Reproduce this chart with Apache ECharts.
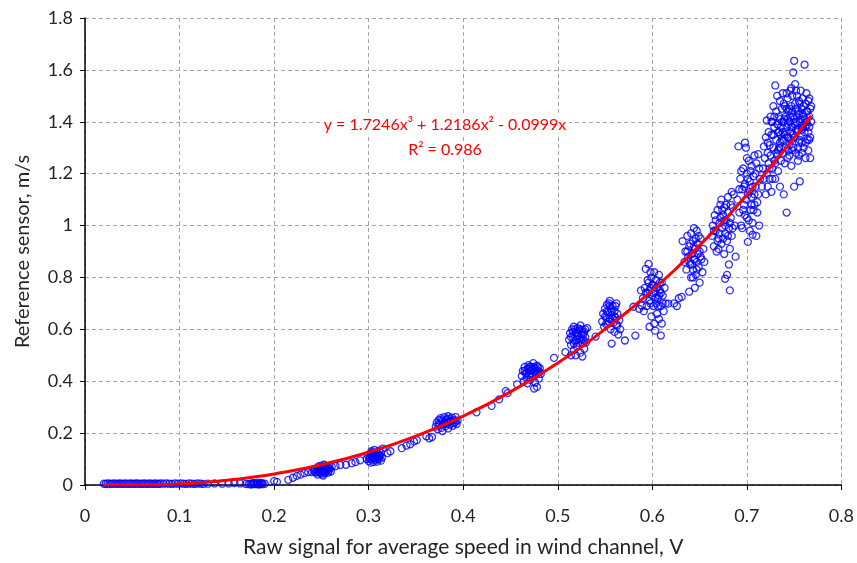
<!DOCTYPE html>
<html>
<head>
<meta charset="utf-8">
<script src="https://cdn.jsdelivr.net/npm/echarts@6/dist/echarts.min.js"></script>
<style>
html, body { margin: 0; padding: 0; background: #fff; }
#chart { width: 857px; height: 563px; }
</style>
</head>
<body>
<div id="chart"></div>
<script>
var zeroBand = [[0.020,0.005],[0.022,0.004],[0.024,0.006],[0.026,0.005],[0.028,0.004],[0.030,0.006],[0.032,0.005],[0.034,0.004],[0.036,0.006],[0.038,0.005],[0.040,0.004],[0.042,0.006],[0.044,0.005],[0.046,0.004],[0.048,0.006],[0.050,0.005],[0.052,0.004],[0.054,0.006],[0.056,0.005],[0.058,0.005],[0.060,0.004],[0.062,0.006],[0.064,0.005],[0.066,0.004],[0.068,0.006],[0.070,0.005],[0.072,0.004],[0.074,0.006],[0.076,0.005],[0.078,0.004],[0.080,0.006],[0.083,0.005],[0.086,0.006],[0.089,0.005],[0.092,0.004],[0.095,0.006],[0.098,0.005],[0.101,0.006],[0.104,0.005],[0.107,0.004],[0.110,0.006],[0.113,0.005],[0.116,0.004],[0.119,0.006],[0.122,0.005],[0.125,0.004]];
var lowSparse = [[0.130,0.005],[0.137,0.006],[0.145,0.005],[0.152,0.006],[0.158,0.007],[0.164,0.006],[0.170,0.004],
  [0.173,0.003],[0.175,0.005],[0.176,0.002],[0.178,0.004],[0.179,0.006],[0.181,0.003],[0.182,0.005],[0.184,0.002],[0.185,0.004],[0.187,0.006],[0.188,0.003],[0.190,0.005],[0.178,0.008],[0.183,0.009],[0.186,0.008],
  [0.200,0.015],[0.203,0.012],[0.215,0.020],[0.220,0.028],[0.224,0.035],[0.228,0.040],[0.232,0.046],[0.236,0.050]];
var c025 = [[0.240,0.050],[0.242,0.055],[0.243,0.062],[0.244,0.048],[0.245,0.058],[0.246,0.066],[0.247,0.052],[0.247,0.072],[0.248,0.060],[0.249,0.045],[0.249,0.068],[0.250,0.055],[0.250,0.075],[0.251,0.062],[0.251,0.040],[0.252,0.050],[0.252,0.070],[0.253,0.058],[0.253,0.078],[0.254,0.046],[0.254,0.065],[0.255,0.055],[0.255,0.072],[0.256,0.060],[0.257,0.048],[0.257,0.068],[0.258,0.056],[0.259,0.064],[0.260,0.052],[0.261,0.070],[0.246,0.040],[0.252,0.036],
  [0.245,0.050],[0.248,0.062],[0.251,0.052],[0.254,0.058],[0.257,0.060],[0.250,0.065],
  [0.265,0.073],[0.270,0.077],[0.276,0.078],[0.282,0.084],[0.286,0.088],[0.291,0.095]];
var c030 = [[0.298,0.100],[0.299,0.115],[0.300,0.092],[0.301,0.108],[0.302,0.122],[0.303,0.098],[0.303,0.130],[0.304,0.112],[0.305,0.088],[0.305,0.120],[0.306,0.104],[0.306,0.135],[0.307,0.096],[0.307,0.116],[0.308,0.126],[0.309,0.108],[0.309,0.090],[0.310,0.118],[0.311,0.100],[0.311,0.132],[0.312,0.112],[0.313,0.094],[0.313,0.124],[0.314,0.106],[0.315,0.140],[0.302,0.086],
  [0.301,0.100],[0.303,0.115],[0.305,0.105],[0.307,0.110],[0.309,0.100],[0.311,0.112],[0.304,0.125],
  [0.320,0.123],[0.323,0.130],[0.335,0.142],[0.340,0.152],[0.344,0.157],[0.348,0.168],[0.351,0.173],[0.361,0.188],[0.364,0.180],[0.367,0.185]];
var c038 = [[0.371,0.225],[0.372,0.240],[0.373,0.215],[0.374,0.250],[0.375,0.232],[0.376,0.258],[0.377,0.220],[0.378,0.245],[0.379,0.236],[0.380,0.262],[0.381,0.226],[0.382,0.250],[0.383,0.240],[0.384,0.218],[0.385,0.255],[0.386,0.232],[0.387,0.246],[0.388,0.260],[0.389,0.228],[0.390,0.250],[0.391,0.240],[0.392,0.262],[0.393,0.235],[0.394,0.248],[0.378,0.208],[0.384,0.265],
  [0.374,0.235],[0.377,0.250],[0.380,0.240],[0.383,0.255],[0.386,0.245],[0.389,0.240],[0.392,0.248],[0.381,0.235],
  [0.414,0.280],[0.430,0.305],[0.438,0.330],[0.445,0.362],[0.447,0.354],[0.457,0.388]];
var c047 = [[0.462,0.420],[0.463,0.440],[0.464,0.400],[0.465,0.455],[0.466,0.430],[0.467,0.412],[0.468,0.448],[0.469,0.462],[0.470,0.425],[0.471,0.405],[0.471,0.440],[0.472,0.455],[0.473,0.418],[0.474,0.470],[0.475,0.435],[0.476,0.450],[0.476,0.395],[0.477,0.425],[0.478,0.460],[0.479,0.440],[0.480,0.410],[0.481,0.450],[0.482,0.428],[0.478,0.378],[0.475,0.372],[0.468,0.392],
  [0.465,0.440],[0.467,0.430],[0.469,0.445],[0.471,0.430],[0.473,0.445],[0.475,0.455],[0.477,0.440],[0.479,0.455],[0.481,0.435],[0.470,0.455],
  [0.496,0.490],[0.508,0.512],[0.514,0.500]];
var c052 = [[0.512,0.560],[0.513,0.585],[0.514,0.540],[0.515,0.600],[0.516,0.570],[0.517,0.520],[0.517,0.610],[0.518,0.555],[0.519,0.590],[0.520,0.535],[0.520,0.575],[0.521,0.605],[0.522,0.548],[0.522,0.595],[0.523,0.565],[0.524,0.510],[0.524,0.615],[0.525,0.580],[0.526,0.545],[0.526,0.600],[0.527,0.560],[0.528,0.590],[0.528,0.525],[0.529,0.570],[0.530,0.550],[0.519,0.500],[0.526,0.495],[0.531,0.605],
  [0.514,0.570],[0.516,0.590],[0.518,0.600],[0.520,0.560],[0.521,0.585],[0.523,0.600],[0.525,0.560],[0.527,0.580],[0.529,0.600],[0.517,0.545],
  [0.540,0.572]];
var c055 = [[0.547,0.630],[0.548,0.660],[0.549,0.610],[0.550,0.680],[0.551,0.645],[0.552,0.695],[0.553,0.620],[0.553,0.665],[0.554,0.700],[0.555,0.640],[0.556,0.680],[0.556,0.600],[0.557,0.655],[0.558,0.690],[0.559,0.625],[0.560,0.670],[0.560,0.590],[0.561,0.645],[0.562,0.700],[0.563,0.615],[0.563,0.660],[0.564,0.580],[0.565,0.635],[0.555,0.710],[0.566,0.600],
  [0.550,0.650],[0.552,0.670],[0.554,0.630],[0.555,0.690],[0.557,0.670],[0.558,0.640],[0.560,0.650],[0.561,0.690],[0.562,0.620],[0.551,0.620],
  [0.557,0.545],[0.571,0.557],[0.582,0.576],[0.580,0.687],[0.586,0.679],[0.589,0.691]];
var c060 = [[0.590,0.720],[0.592,0.760],[0.593,0.833],[0.594,0.690],[0.595,0.740],[0.596,0.852],[0.596,0.780],[0.597,0.710],[0.598,0.760],[0.599,0.650],[0.599,0.800],[0.600,0.730],[0.601,0.690],[0.601,0.770],[0.602,0.622],[0.602,0.820],[0.603,0.745],[0.604,0.700],[0.604,0.790],[0.605,0.660],[0.605,0.760],[0.606,0.720],[0.607,0.810],[0.607,0.640],[0.608,0.750],[0.609,0.690],[0.609,0.576],[0.610,0.622],[0.610,0.780],[0.611,0.730],[0.612,0.670],[0.613,0.760],[0.614,0.700],[0.588,0.750],[0.591,0.670],[0.597,0.610],[0.603,0.595],
  [0.593,0.740],[0.595,0.790],[0.597,0.750],[0.598,0.700],[0.600,0.770],[0.601,0.740],[0.603,0.720],[0.604,0.760],[0.606,0.690],[0.607,0.730],[0.608,0.780],[0.609,0.740],[0.611,0.700],[0.598,0.820],
  [0.617,0.699],[0.623,0.700],[0.626,0.690],[0.628,0.720],[0.631,0.725]];
var c065 = [[0.632,0.940],[0.634,0.860],[0.635,0.900],[0.636,0.830],[0.637,0.960],[0.638,0.880],[0.639,0.745],[0.639,0.920],[0.640,0.850],[0.641,0.800],[0.641,0.970],[0.642,0.890],[0.643,0.830],[0.643,0.940],[0.644,0.870],[0.645,0.760],[0.645,0.910],[0.646,0.810],[0.647,0.980],[0.647,0.860],[0.648,0.930],[0.649,0.840],[0.650,0.900],[0.650,0.780],[0.651,0.950],[0.652,0.870],[0.653,0.820],[0.654,0.910],[0.655,0.860],[0.644,0.990],
  [0.637,0.900],[0.639,0.860],[0.640,0.930],[0.642,0.850],[0.644,0.920],[0.645,0.870],[0.646,0.950],[0.648,0.890],[0.649,0.960],[0.651,0.880],[0.643,0.800],[0.647,0.830]];
var c068 = [[0.663,0.960],[0.664,1.000],[0.665,0.920],[0.666,1.040],[0.667,0.980],[0.668,0.900],[0.669,1.060],[0.670,0.950],[0.671,1.010],[0.672,1.080],[0.673,1.100],[0.673,0.930],[0.674,0.990],[0.675,1.040],[0.676,0.890],[0.676,1.070],[0.677,0.970],[0.678,1.020],[0.679,0.940],[0.680,1.110],[0.680,1.050],[0.681,0.990],[0.682,0.910],[0.683,1.030],[0.684,1.130],[0.684,0.960],[0.685,1.070],[0.686,1.120],[0.687,1.000],[0.688,0.880],[0.681,0.850],[0.679,0.810],[0.677,0.795],[0.682,0.750],
  [0.665,0.980],[0.667,1.020],[0.669,0.940],[0.671,0.970],[0.672,1.030],[0.674,1.060],[0.675,0.950],[0.677,1.000],[0.678,1.080],[0.680,0.960],[0.682,1.010],[0.683,1.080],[0.685,0.990],[0.670,0.910],[0.676,1.020]];
var c070 = [[0.690,1.100],[0.691,1.305],[0.692,1.050],[0.693,1.180],[0.694,1.000],[0.695,1.140],[0.696,1.220],[0.697,1.080],[0.698,1.320],[0.698,1.160],[0.699,1.300],[0.700,1.030],[0.700,1.200],[0.701,0.937],[0.701,1.120],[0.702,1.250],[0.703,0.980],[0.703,1.170],[0.704,1.060],[0.705,1.230],[0.705,1.110],[0.706,1.010],[0.707,1.190],[0.708,1.270],[0.708,1.080],[0.709,1.150],[0.710,0.960],[0.710,1.240],[0.711,1.050],[0.712,1.120],[0.712,1.275],[0.713,1.000],[0.714,1.180],[0.695,0.990],[0.706,0.965],
  [0.692,1.140],[0.694,1.210],[0.696,1.060],[0.697,1.150],[0.699,1.100],[0.700,1.260],[0.702,1.020],[0.703,1.130],[0.704,1.210],[0.706,1.150],[0.707,1.060],[0.709,1.200],[0.711,1.090],[0.713,1.220],[0.701,1.180],[0.705,1.080],[0.708,1.120],[0.698,1.040]];
var c075 = [[0.716,1.150],[0.717,1.220],[0.718,1.305],[0.718,1.180],[0.719,1.260],[0.720,1.120],[0.720,1.340],[0.721,1.405],[0.721,1.200],[0.722,1.280],[0.722,1.150],[0.723,1.360],[0.723,1.240],[0.724,1.180],[0.724,1.310],[0.725,1.420],[0.725,1.270],[0.726,1.130],[0.726,1.350],[0.727,1.220],
  [0.727,1.400],[0.728,1.300],[0.728,1.460],[0.729,1.250],[0.729,1.380],[0.730,1.540],[0.730,1.180],[0.731,1.330],[0.731,1.440],[0.732,1.270],[0.732,1.500],[0.733,1.360],[0.733,1.210],[0.734,1.420],[0.734,1.300],[0.735,1.480],[0.735,1.150],[0.736,1.380],[0.736,1.250],[0.737,1.450],[0.737,1.330],[0.738,1.510],[0.738,1.280],[0.739,1.400],[0.739,1.120],[0.740,1.350],[0.740,1.460],
  [0.741,1.300],[0.741,1.420],[0.742,1.050],[0.742,1.380],[0.743,1.490],[0.743,1.260],[0.744,1.340],[0.744,1.440],[0.745,1.400],[0.745,1.310],[0.746,1.520],[0.746,1.360],[0.747,1.230],[0.747,1.460],[0.748,1.380],[0.748,1.290],[0.749,1.590],[0.749,1.420],[0.750,1.635],[0.750,1.150],[0.750,1.340],[0.751,1.545],[0.751,1.470],[0.752,1.280],[0.752,1.400],[0.753,1.500],[0.753,1.360],[0.754,1.250],[0.754,1.440],[0.755,1.320],[0.755,1.480],[0.756,1.170],[0.756,1.400],
  [0.757,1.350],[0.757,1.520],[0.758,1.280],[0.758,1.450],[0.759,1.380],[0.759,1.490],[0.760,1.300],[0.760,1.420],[0.761,1.620],[0.761,1.360],[0.762,1.470],[0.762,1.260],[0.763,1.400],[0.763,1.510],[0.764,1.330],[0.764,1.440],[0.765,1.290],[0.765,1.480],[0.766,1.380],[0.766,1.420],[0.767,1.340],[0.767,1.260],[0.768,1.460],[0.768,1.400],
  [0.733,1.390],[0.738,1.360],[0.743,1.410],[0.747,1.330],[0.752,1.370],[0.756,1.330],[0.760,1.390],[0.745,1.270],[0.740,1.240],[0.735,1.320],
  [0.722,1.320],[0.724,1.220],[0.726,1.400],[0.728,1.350],[0.729,1.420],[0.731,1.280],[0.732,1.390],[0.734,1.360],[0.735,1.410],[0.736,1.300],[0.737,1.400],[0.739,1.330],[0.740,1.410],[0.741,1.360],[0.742,1.450],[0.743,1.340],[0.744,1.390],[0.745,1.450],[0.746,1.420],[0.747,1.380],[0.748,1.440],[0.749,1.350],[0.750,1.410],[0.751,1.390],[0.752,1.450],[0.753,1.420],[0.754,1.370],[0.755,1.430],[0.756,1.470],[0.757,1.410],[0.758,1.370],[0.759,1.430],[0.760,1.460],[0.761,1.410],[0.762,1.380],[0.763,1.440],[0.764,1.390],[0.765,1.360],[0.766,1.330],[0.767,1.450],[0.744,1.290],[0.749,1.300],[0.754,1.300],[0.758,1.320],[0.727,1.180],[0.730,1.240],[0.733,1.290],[0.736,1.350],[0.739,1.470],[0.742,1.510],[0.748,1.500],[0.752,1.520],[0.755,1.270],[0.762,1.320],[0.766,1.490],[0.747,1.530]];

// trend line points
var fitX = [0.02, 0.05, 0.075, 0.1, 0.125, 0.15, 0.175, 0.2, 0.25, 0.3, 0.35, 0.4, 0.45, 0.5, 0.55, 0.6, 0.65, 0.7, 0.75, 0.768];
var fitY = [0, 0, 0, 0.0039, 0.0099, 0.0183, 0.0291, 0.0426, 0.0781, 0.1263, 0.1883, 0.2654, 0.3590, 0.4703, 0.6006, 0.7513, 0.9235, 1.1187, 1.3381, 1.4233];

var eqLine = 'y = 1.7246x³ + 1.2186x² - 0.0999x';
var r2Line = 'R² = 0.986';

var points = [].concat(zeroBand, lowSparse, c025, c030, c038, c047, c052, c055, c060, c065, c068, c070, c075);
var fitData = fitX.map(function (x, i) { return [x, fitY[i]]; });

var chart = echarts.init(document.getElementById('chart'));
var font = 'Lato, "Open Sans", sans-serif';

option = {
    animation: false,
    grid: { left: 85, right: 14, top: 18, bottom: 76 },
    xAxis: {
        type: 'value',
        min: 0,
        max: 0.8,
        interval: 0.1,
        name: 'Raw signal for average speed in wind channel, V',
        nameLocation: 'middle',
        nameGap: 52,
        nameTextStyle: { fontFamily: font, fontSize: 21, color: '#262626' },
        axisLine: { lineStyle: { color: '#000', width: 1.5 } },
        axisTick: { show: true, length: 5, lineStyle: { color: '#000' } },
        axisLabel: { fontFamily: font, fontSize: 18, color: '#262626', margin: 22 },
        splitLine: { lineStyle: { color: '#a6a6a6', type: [4, 3], width: 1 } }
    },
    yAxis: {
        type: 'value',
        min: 0,
        max: 1.8,
        interval: 0.2,
        name: 'Reference sensor, m/s',
        nameLocation: 'middle',
        nameGap: 52,
        nameTextStyle: { fontFamily: font, fontSize: 20, color: '#262626' },
        axisLine: { show: true, lineStyle: { color: '#000', width: 1.5 } },
        axisTick: { show: true, length: 5, lineStyle: { color: '#000' } },
        axisLabel: { fontFamily: font, fontSize: 18, color: '#262626', margin: 12 },
        splitLine: { lineStyle: { color: '#a6a6a6', type: [4, 3], width: 1 } }
    },
    graphic: [
        { type: 'text', x: 445, y: 116, z: 10, style: { text: eqLine, align: 'center', verticalAlign: 'top', fill: '#ff0000', fontFamily: font, fontSize: 16, backgroundColor: '#fff', padding: [1, 3] } },
        { type: 'text', x: 445, y: 141, z: 10, style: { text: r2Line, align: 'center', verticalAlign: 'top', fill: '#ff0000', fontFamily: font, fontSize: 16, backgroundColor: '#fff', padding: [1, 3] } }
    ],
    series: [
        {
            type: 'scatter',
            data: points,
            symbol: 'circle',
            symbolSize: 7,
            itemStyle: { color: 'rgba(0,0,0,0)', borderColor: '#0000ff', borderWidth: 1.3 },
            z: 2
        },
        {
            type: 'line',
            data: fitData,
            smooth: true,
            showSymbol: false,
            lineStyle: { color: '#ff0000', width: 3 },
            z: 3
        }
    ]
};
chart.setOption(option);
</script>
</body>
</html>
